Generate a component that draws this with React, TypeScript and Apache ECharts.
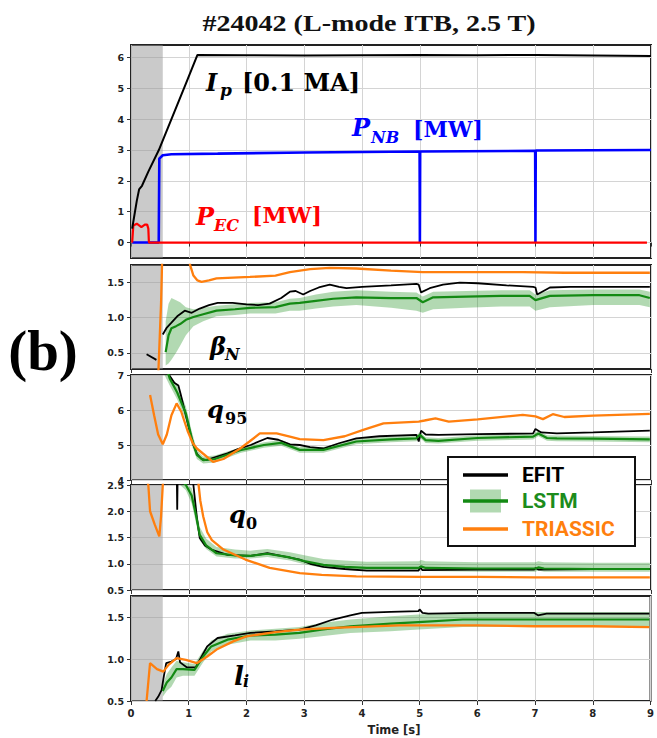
import React, { useEffect, useRef } from 'react';
import * as echarts from 'echarts';

type P = [number, number];
type B = [number, number, number, number]; // time, mean, lower, upper

// ---------- axis ticks ----------
const timeMin = 0;
const timeMax = 9;
const shadeEnd = 0.55;
const ticksPower = [0, 1, 2, 3, 4, 5, 6];
const ticksBeta = [0.5, 1.0, 1.5];
const ticksQ95 = [4, 5, 6, 7];
const ticksQ0 = [0.5, 1.0, 1.5, 2.0, 2.5];
const ticksLi = [0.5, 1.0, 1.5];

// ---------- panel 1: Ip, PNB, PEC ----------
const ipData: P[] = [
  [0.02, 0.45], [0.06, 0.9], [0.1, 1.35], [0.14, 1.72], [0.19, 1.84], [0.3, 2.3], [0.48, 2.99],
  [0.7, 4.0], [0.95, 5.15], [1.15, 6.08], [2, 6.07], [3, 6.06], [4, 6.07], [5, 6.08], [6, 6.07],
  [7, 6.08], [8, 6.06], [9, 6.04],
];
const pnbData: P[] = [
  [0.02, 0], [0.48, 0], [0.49, 2.72], [0.55, 2.83], [0.7, 2.86], [1.5, 2.88], [3, 2.92],
  [4.995, 2.95], [5.0, 0], [5.005, 2.95], [6.995, 2.97], [7.0, 0], [7.005, 2.98], [8, 2.99], [9, 3.0],
];
const pecData: P[] = [
  [0.02, 0], [0.04, 0.55], [0.1, 0.61], [0.18, 0.5], [0.24, 0.58], [0.28, 0.58], [0.3, 0.45],
  [0.31, 0], [8.93, 0],
];

// ---------- panel 2: beta_N ----------
const betaEfitEarly: P[] = [[0.27, 0.48], [0.44, 0.4]];
const betaEfit: P[] = [
  [0.55, 0.76], [0.62, 0.86], [0.7, 0.93], [0.8, 1.02], [0.93, 1.1], [1.05, 1.07], [1.19, 1.13],
  [1.35, 1.18], [1.5, 1.21], [1.76, 1.21], [2.0, 1.19], [2.2, 1.18], [2.4, 1.2], [2.6, 1.28],
  [2.75, 1.37], [2.85, 1.38], [2.98, 1.33], [3.1, 1.38], [3.25, 1.43], [3.44, 1.47], [3.6, 1.44],
  [3.73, 1.42], [4.0, 1.44], [4.5, 1.46], [4.94, 1.48], [4.98, 1.47], [5.02, 1.36], [5.17, 1.42],
  [5.4, 1.47], [5.69, 1.5], [6.0, 1.49], [6.5, 1.46], [6.96, 1.44], [7.0, 1.43], [7.03, 1.33],
  [7.25, 1.43], [7.6, 1.44], [8.0, 1.44], [8.5, 1.44], [8.98, 1.44],
];
const betaLstm: B[] = [
  [0.6, 0.51, 0.32, 0.95], [0.65, 0.75, 0.35, 1.2], [0.7, 0.85, 0.4, 1.28], [0.78, 0.88, 0.5, 1.25],
  [0.85, 0.91, 0.6, 1.22], [0.95, 0.97, 0.75, 1.15], [1.08, 1.01, 0.88, 1.12], [1.25, 1.05, 0.95, 1.14],
  [1.48, 1.1, 1.02, 1.17], [1.8, 1.12, 1.04, 1.19], [2.06, 1.14, 1.06, 1.21], [2.5, 1.15, 1.06, 1.22],
  [2.75, 1.2, 1.1, 1.27], [2.92, 1.21, 1.1, 1.28], [3.2, 1.24, 1.13, 1.33], [3.5, 1.27, 1.16, 1.37],
  [3.9, 1.29, 1.18, 1.39], [4.5, 1.28, 1.14, 1.37], [4.94, 1.28, 1.1, 1.36], [5.05, 1.22, 1.07, 1.3],
  [5.23, 1.29, 1.12, 1.37], [5.8, 1.3, 1.14, 1.38], [6.4, 1.31, 1.16, 1.39], [6.9, 1.31, 1.16, 1.39],
  [7.0, 1.25, 1.1, 1.33], [7.25, 1.31, 1.15, 1.39], [8.0, 1.32, 1.18, 1.4], [8.8, 1.32, 1.18, 1.4],
  [8.98, 1.28, 1.15, 1.37],
];
const betaTri: P[] = [
  [0.47, 0.15], [0.52, 1.2], [0.56, 2.5], [0.98, 2.5], [1.02, 1.76], [1.08, 1.6], [1.15, 1.53],
  [1.22, 1.51], [1.35, 1.53], [1.48, 1.56], [2.06, 1.58], [2.5, 1.6], [2.75, 1.65], [3.1, 1.69],
  [3.44, 1.71], [3.9, 1.7], [4.5, 1.67], [5.05, 1.65], [6, 1.65], [6.78, 1.65], [7.5, 1.64], [8.98, 1.64],
];

// ---------- panel 3: q95 ----------
const q95Efit: P[] = [
  [0.6, 7.5], [0.66, 7.0], [0.75, 6.78], [0.82, 6.7], [0.86, 6.45], [1.0, 5.5], [1.08, 5.0],
  [1.14, 4.75], [1.22, 4.6], [1.3, 4.57], [1.45, 4.65], [1.67, 4.76], [1.85, 4.88], [2.07, 5.0],
  [2.36, 5.2], [2.55, 5.15], [2.75, 5.02], [2.92, 5.0], [3.1, 4.94], [3.33, 4.9], [3.6, 5.05],
  [3.9, 5.19], [4.3, 5.25], [4.94, 5.29], [4.98, 5.1], [5.02, 5.41], [5.1, 5.3], [5.32, 5.29],
  [6, 5.31], [6.96, 5.33], [7.0, 5.46], [7.1, 5.36], [7.37, 5.33], [8, 5.36], [8.98, 5.41],
];
const q95Lstm: B[] = [
  [0.58, 7.4, 7.2, 7.6], [0.67, 6.9, 6.7, 7.1], [0.8, 6.5, 6.3, 6.7], [0.95, 5.9, 5.7, 6.1],
  [1.05, 5.2, 5.0, 5.4], [1.14, 4.72, 4.6, 4.85], [1.25, 4.57, 4.47, 4.67], [1.45, 4.6, 4.5, 4.7],
  [1.89, 4.85, 4.77, 4.93], [2.3, 5.0, 4.92, 5.08], [2.6, 5.06, 4.98, 5.14], [2.92, 4.86, 4.78, 4.94],
  [3.33, 4.86, 4.78, 4.94], [3.9, 5.1, 5.02, 5.18], [4.5, 5.16, 5.08, 5.24], [4.94, 5.19, 5.11, 5.27],
  [5.0, 5.29, 5.2, 5.37], [5.1, 5.14, 5.06, 5.22], [5.32, 5.12, 5.04, 5.2], [6.0, 5.2, 5.12, 5.28],
  [6.96, 5.24, 5.16, 5.32], [7.05, 5.33, 5.25, 5.41], [7.2, 5.2, 5.12, 5.28], [7.37, 5.19, 5.11, 5.27],
  [8, 5.18, 5.1, 5.26], [8.98, 5.16, 5.08, 5.24],
];
const q95Tri: P[] = [
  [0.33, 6.43], [0.4, 5.85], [0.47, 5.3], [0.55, 5.02], [0.62, 5.3], [0.7, 5.85], [0.79, 6.19],
  [0.87, 5.95], [0.98, 5.4], [1.07, 5.05], [1.14, 4.9], [1.25, 4.75], [1.42, 4.52], [1.6, 4.6],
  [1.89, 4.9], [2.05, 5.1], [2.23, 5.33], [2.52, 5.33], [2.75, 5.24], [2.92, 5.17], [3.33, 5.14],
  [3.7, 5.25], [4.02, 5.43], [4.37, 5.62], [4.98, 5.67], [5.08, 5.7], [5.27, 5.76], [5.5, 5.67],
  [6.0, 5.73], [6.78, 5.86], [7.0, 5.82], [7.13, 5.74], [7.3, 5.88], [7.5, 5.8], [8.0, 5.84], [8.98, 5.89],
];

// ---------- panel 4: q0 ----------
const q0Efit: P[] = [
  [0.75, 2.9], [0.79, 2.9], [0.8, 2.03], [0.81, 2.9], [1.05, 2.9], [1.08, 2.5], [1.14, 1.88],
  [1.19, 1.49], [1.28, 1.35], [1.39, 1.27], [1.67, 1.17], [2.07, 1.15], [2.36, 1.2], [2.6, 1.15],
  [2.92, 1.08], [3.1, 1.0], [3.33, 0.94], [3.7, 0.9], [4.08, 0.87], [4.98, 0.87], [5.0, 0.94],
  [5.04, 0.88], [6, 0.89], [6.98, 0.89], [7.0, 0.92], [7.05, 0.89], [8, 0.9], [8.98, 0.9],
];
const q0Lstm: B[] = [
  [0.85, 2.6, 2.5, 2.7], [0.95, 2.5, 2.4, 2.6], [1.05, 2.3, 2.15, 2.45], [1.12, 1.95, 1.8, 2.1],
  [1.19, 1.55, 1.45, 1.7], [1.3, 1.35, 1.28, 1.48], [1.48, 1.2, 1.14, 1.32], [1.8, 1.16, 1.1, 1.27],
  [2.07, 1.15, 1.1, 1.25], [2.36, 1.19, 1.13, 1.28], [2.75, 1.12, 1.06, 1.22], [3.0, 1.05, 0.99, 1.16],
  [3.33, 0.98, 0.92, 1.09], [3.7, 0.94, 0.88, 1.06], [4.08, 0.92, 0.86, 1.04], [4.98, 0.92, 0.86, 1.05],
  [5.02, 0.95, 0.89, 1.07], [5.1, 0.92, 0.86, 1.05], [6, 0.91, 0.85, 1.03], [7.0, 0.91, 0.85, 1.03],
  [7.05, 0.93, 0.87, 1.05], [7.15, 0.91, 0.85, 1.03], [8, 0.9, 0.85, 1.02], [8.98, 0.9, 0.85, 1.02],
];
const q0TriEarly: P[] = [[0.28, 2.6], [0.3, 2.5], [0.33, 2.0], [0.41, 1.75], [0.49, 1.52], [0.52, 1.9], [0.55, 2.5], [0.57, 2.8]];
const q0Tri: P[] = [
  [1.15, 2.8], [1.17, 2.5], [1.2, 2.2], [1.25, 1.9], [1.32, 1.6], [1.4, 1.45], [1.6, 1.27],
  [1.98, 1.08], [2.4, 0.92], [2.92, 0.82], [3.3, 0.79], [3.9, 0.76], [5, 0.75], [6, 0.75],
  [7, 0.74], [8, 0.74], [8.98, 0.74],
];

// ---------- panel 5: li ----------
const liEfit: P[] = [
  [0.42, 0.5], [0.47, 0.55], [0.53, 0.63], [0.57, 0.8], [0.61, 0.95], [0.7, 0.97], [0.78, 1.0],
  [0.82, 1.09], [0.85, 0.96], [0.97, 0.9], [1.12, 0.9], [1.2, 1.0], [1.32, 1.15], [1.5, 1.25],
  [1.8, 1.28], [2.07, 1.31], [2.5, 1.33], [2.92, 1.35], [3.2, 1.4], [3.5, 1.47], [3.8, 1.52],
  [4.0, 1.55], [4.5, 1.56], [4.98, 1.57], [5.0, 1.59], [5.05, 1.55], [5.15, 1.54], [6, 1.55],
  [6.98, 1.55], [7.05, 1.52], [7.2, 1.54], [8, 1.54], [8.98, 1.54],
];
const liLstm: B[] = [
  [0.55, 0.62, 0.55, 0.7], [0.62, 0.72, 0.62, 0.82], [0.7, 0.78, 0.67, 0.9], [0.79, 0.88, 0.78, 0.98],
  [0.9, 0.88, 0.8, 0.96], [1.1, 0.87, 0.8, 0.94], [1.25, 1.03, 0.96, 1.1], [1.39, 1.15, 1.09, 1.22],
  [1.67, 1.23, 1.17, 1.3], [2.07, 1.28, 1.22, 1.34], [2.5, 1.29, 1.22, 1.36], [2.92, 1.31, 1.24, 1.38],
  [3.3, 1.35, 1.27, 1.43], [3.8, 1.39, 1.31, 1.47], [4.5, 1.42, 1.33, 1.51], [4.98, 1.44, 1.35, 1.53],
  [5.75, 1.47, 1.38, 1.56], [7, 1.47, 1.38, 1.56], [8, 1.47, 1.38, 1.56], [8.98, 1.47, 1.38, 1.56],
];
const liTri: P[] = [
  [0.27, 0.5], [0.33, 0.95], [0.45, 0.88], [0.56, 0.85], [0.65, 0.93], [0.79, 1.01], [0.95, 0.99],
  [1.14, 0.95], [1.32, 1.03], [1.5, 1.12], [1.77, 1.21], [2.0, 1.27], [2.5, 1.32], [2.92, 1.35],
  [3.5, 1.37], [4.65, 1.4], [6, 1.4], [7, 1.39], [8, 1.39], [8.98, 1.38],
];

// ---------- texts ----------
const titleText = '#24042 (L-mode ITB, 2.5 T)';
const panelTag = '(b)';
const xAxisTitle = 'Time [s]';
const legendNames = ['EFIT', 'LSTM', 'TRIASSIC'];

const COL = {
  efit: '#000000',
  lstm: '#138a13',
  lstmText: '#1c8c1c',
  band: 'rgba(0,128,0,0.3)',
  tri: '#ff7f0e',
  nb: '#0000ff',
  ec: '#ff0000',
  shade: 'rgba(150,150,150,0.5)',
};

const gridBoxes = [
  { top: 45, height: 213 },
  { top: 265, height: 104 },
  { top: 375, height: 105 },
  { top: 485, height: 105 },
  { top: 596, height: 105 },
];
const yRanges: { min: number; max: number; ticks: number[]; dec: number }[] = [
  { min: -0.5, max: 6.4, ticks: ticksPower, dec: 0 },
  { min: 0.27, max: 1.75, ticks: ticksBeta, dec: 1 },
  { min: 4, max: 7, ticks: ticksQ95, dec: 0 },
  { min: 0.5, max: 2.5, ticks: ticksQ0, dec: 1 },
  { min: 0.5, max: 1.75, ticks: ticksLi, dec: 1 },
];

function lineS(idx: number, data: P[], color: string, width: number, z: number, extra: any = {}) {
  return {
    type: 'line', xAxisIndex: idx, yAxisIndex: idx, data, symbol: 'none', showSymbol: false,
    lineStyle: { color, width }, itemStyle: { color }, z, silent: true, clip: true, ...extra,
  };
}

function shade() {
  return {
    markArea: {
      silent: true,
      itemStyle: { color: COL.shade },
      data: [[{ xAxis: timeMin }, { xAxis: shadeEnd }]],
    },
  };
}

// Uncertainty band drawn as one polygon through the axes' own scales (api.coord).
function bandS(idx: number, rows: B[]) {
  return [
    {
      type: 'custom', xAxisIndex: idx, yAxisIndex: idx, silent: true, z: 2,
      data: rows.map((r) => [r[0], r[2], r[3]]),
      encode: { x: 0, y: [1, 2] },
      renderItem: (params: any, api: any) => {
        if (params.dataIndex !== 0) return null;
        const cs = params.coordSys;
        const upper = rows.map((r) => api.coord([r[0], r[3]]));
        const lower = rows.map((r) => api.coord([r[0], r[2]])).reverse();
        const pts = upper.concat(lower).map((p: number[]) => [
          Math.min(Math.max(p[0], cs.x), cs.x + cs.width),
          Math.min(Math.max(p[1], cs.y), cs.y + cs.height),
        ]);
        return { type: 'polygon', shape: { points: pts }, style: { fill: COL.band } };
      },
    },
    lineS(idx, rows.map((r) => [r[0], r[1]] as P), COL.lstm, 2.2, 4),
  ];
}

function txt(text: string, x: number, y: number, size: number, color: string, italic: boolean, family = 'DejaVu Serif') {
  return {
    type: 'text', x, y, z: 50, silent: true,
    style: {
      text, x: 0, y: 0, fontFamily: family, fontWeight: 'bold', fontStyle: italic ? 'italic' : 'normal',
      fontSize: size, fill: color, align: 'left', verticalAlign: 'middle',
    },
  };
}

function buildOption() {
  const grid = gridBoxes.map((g) => ({
    left: 131, width: 520, top: g.top, height: g.height, show: true,
    borderColor: '#222', borderWidth: 2, backgroundColor: 'transparent', containLabel: false,
  }));
  const xAxis = gridBoxes.map((_, i) => ({
    type: 'value', gridIndex: i, min: timeMin, max: timeMax, interval: 1,
    axisLine: { show: false },
    axisTick: { show: true, inside: false, length: 4, lineStyle: { color: '#333', width: 1 } },
    axisLabel: {
      show: i === 4, margin: 7, fontSize: 10, fontWeight: 'bold', fontFamily: 'DejaVu Sans', color: '#222',
    },
    splitLine: { show: true, lineStyle: { color: '#d4d4d4', width: 1 } },
  }));
  const yAxis = yRanges.map((r, i) => ({
    type: 'value', gridIndex: i, min: r.min, max: r.max,
    axisLine: { show: false },
    axisTick: { show: true, inside: false, length: 4, customValues: r.ticks, lineStyle: { color: '#333', width: 1 } },
    axisLabel: {
      show: true, customValues: r.ticks, margin: 7, fontSize: 9.5, fontWeight: 'bold',
      fontFamily: 'DejaVu Sans', color: '#222', formatter: (v: number) => v.toFixed(r.dec),
    },
    splitLine: { show: true, lineStyle: { color: '#d4d4d4', width: 1 } },
  }));

  const series: any[] = [
    // panel 1
    lineS(0, pnbData, COL.nb, 2.6, 3, shade()),
    lineS(0, pecData, COL.ec, 2.2, 4),
    lineS(0, ipData, COL.efit, 2.0, 5),
    // panel 2
    lineS(1, betaEfitEarly, COL.efit, 1.8, 3, shade()),
    ...bandS(1, betaLstm),
    lineS(1, betaEfit, COL.efit, 1.8, 3),
    lineS(1, betaTri, COL.tri, 2.3, 5),
    // panel 3
    lineS(2, q95Efit, COL.efit, 1.8, 3, shade()),
    ...bandS(2, q95Lstm),
    lineS(2, q95Tri, COL.tri, 2.3, 5),
    // panel 4
    lineS(3, q0Efit, COL.efit, 1.8, 3, shade()),
    ...bandS(3, q0Lstm),
    lineS(3, q0TriEarly, COL.tri, 2.3, 5),
    lineS(3, q0Tri, COL.tri, 2.3, 5),
    // panel 5
    lineS(4, liEfit, COL.efit, 1.8, 3, shade()),
    ...bandS(4, liLstm),
    lineS(4, liTri, COL.tri, 2.3, 5),
  ];

  const legendX = 448, legendY = 457, legendW = 187, legendH = 89;
  const rowsY = [475, 501, 529];
  const graphic: any[] = [
    {
      type: 'text', x: 369, y: 23, scaleX: 1.17, z: 50, silent: true,
      style: {
        text: titleText, x: 0, y: 0, fontFamily: 'Liberation Serif', fontWeight: 'bold', fontSize: 24,
        fill: '#111', align: 'center', verticalAlign: 'middle',
      },
    },
    {
      type: 'text', x: 43, y: 350, z: 50, silent: true,
      style: {
        text: panelTag, x: 0, y: 0, fontFamily: 'Liberation Serif', fontWeight: 'bold', fontSize: 57,
        fill: '#000', align: 'center', verticalAlign: 'middle',
      },
    },
    {
      type: 'text', x: 394, y: 730, z: 50, silent: true,
      style: {
        text: xAxisTitle, x: 0, y: 0, fontFamily: 'DejaVu Sans', fontWeight: 'bold', fontSize: 11.5,
        fill: '#222', align: 'center', verticalAlign: 'middle',
      },
    },
    // annotations
    txt('I', 206, 82, 24, COL.efit, true),
    txt('p', 220, 90, 17, COL.efit, true),
    txt('[0.1 MA]', 242, 82, 24, COL.efit, false),
    txt('P', 352, 127, 24, COL.nb, true),
    txt('NB', 371, 137, 16, COL.nb, true),
    txt('[MW]', 413, 129, 22, COL.nb, false),
    txt('P', 196, 216, 24, COL.ec, true),
    txt('EC', 214, 225, 16, COL.ec, true),
    txt('[MW]', 252, 215, 22, COL.ec, false),
    txt('β', 210, 346, 24, COL.efit, true),
    txt('N', 225, 354, 16, COL.efit, true),
    txt('q', 207, 409, 24, COL.efit, true),
    txt('95', 225, 418, 16, COL.efit, false),
    txt('q', 229, 514, 24, COL.efit, true),
    txt('0', 246, 523, 16, COL.efit, false),
    txt('l', 234, 676, 26, COL.efit, true),
    txt('i', 243, 681, 16, COL.efit, true),
    // legend
    {
      type: 'rect', z: 60, silent: true,
      shape: { x: legendX, y: legendY, width: legendW, height: legendH },
      style: { fill: '#ffffff', stroke: '#111', lineWidth: 2 },
    },
    {
      type: 'rect', z: 61, silent: true,
      shape: { x: 470, y: rowsY[1] - 11.5, width: 31, height: 23 },
      style: { fill: COL.band },
    },
    {
      type: 'line', z: 62, silent: true,
      shape: { x1: 463, y1: rowsY[0], x2: 508, y2: rowsY[0] },
      style: { stroke: COL.efit, lineWidth: 3.5 },
    },
    {
      type: 'line', z: 62, silent: true,
      shape: { x1: 463, y1: rowsY[1], x2: 508, y2: rowsY[1] },
      style: { stroke: COL.lstm, lineWidth: 3.5 },
    },
    {
      type: 'line', z: 62, silent: true,
      shape: { x1: 463, y1: rowsY[2], x2: 508, y2: rowsY[2] },
      style: { stroke: COL.tri, lineWidth: 3.5 },
    },
    ...legendNames.map((n, i) => ({
      type: 'text', x: 522, y: rowsY[i], z: 63, silent: true,
      style: {
        text: n, x: 0, y: 0, fontFamily: 'Roboto', fontWeight: 'bold', fontSize: 21,
        fill: [COL.efit, COL.lstmText, COL.tri][i], align: 'left', verticalAlign: 'middle',
      },
    })),
  ];

  return {
    animation: false,
    backgroundColor: '#ffffff',
    grid,
    xAxis,
    yAxis,
    series,
    graphic,
  };
}

export default function App() {
  const ref = useRef<HTMLDivElement>(null);
  useEffect(() => {
    if (!ref.current) return;
    const chart = echarts.init(ref.current, null, { renderer: 'svg' });
    chart.setOption(buildOption() as any);
    return () => chart.dispose();
  }, []);
  return (
    <div
      ref={ref}
      style={{ position: 'absolute', left: 0, top: 0, width: 657, height: 738, background: '#fff' }}
    />
  );
}
